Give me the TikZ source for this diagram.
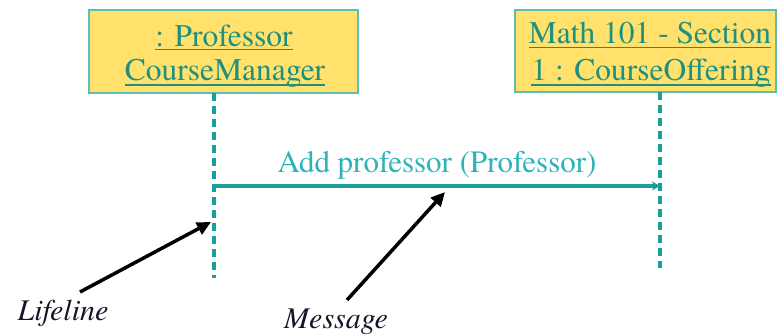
\documentclass[tikz,border=0pt]{standalone}
\usepackage{fontspec}
\setmainfont{TeX Gyre Termes}
\usetikzlibrary{arrows.meta,calc}

\definecolor{boxfill}{HTML}{FFE16B}
\definecolor{boxline}{HTML}{5CBFB0}
\definecolor{objtext}{HTML}{1F8F80}
\definecolor{lifecol}{HTML}{1A9E9A}
\definecolor{msgtext}{HTML}{2BB3B8}
\definecolor{notecol}{HTML}{15152A}

\tikzset{
  objbox/.style={draw=boxline, line width=1.5pt, fill=boxfill},
  objname/.style={anchor=base, inner sep=0pt, text=objtext,
    font=\fontsize{31.5}{34}\selectfont},
  uline/.style={draw=objtext, line width=1.6pt},
  lifeline/.style={draw=lifecol, line width=4pt, dash pattern=on 8pt off 5pt},
  msgline/.style={draw=lifecol, line width=4pt,
    -{Stealth[length=8pt, width=9pt]}},
  msglabel/.style={anchor=base, inner sep=0pt, text=msgtext,
    font=\fontsize{31}{34}\selectfont},
  notelabel/.style={anchor=base, inner sep=0pt, text=notecol,
    font=\fontsize{30}{34}\selectfont\itshape},
  notearrow/.style={draw=black, line width=3.5pt,
    -{Triangle[length=14pt, width=13pt]}}
}

\begin{document}
\begin{tikzpicture}[x=1pt, y=-1pt]
\useasboundingbox (0,0) rectangle (777,335);

% object boxes with underlined names
\path[objbox] (89,10) rectangle (358,93);
\node[objname] (pm1) at (224,46) {: Professor};
\node[objname] (pm2) at (225,80) {CourseManager};
\draw[uline] ($(pm1.base west)+(0,3.5)$) -- ($(pm1.base east)+(0,3.5)$);
\draw[uline] ($(pm2.base west)+(0,5)$) -- ($(pm2.base east)+(0,5)$);

\path[objbox] (515,10) rectangle (776,92);
\node[objname] (co1) at (650,43) {Math 101 - Section};
\node[objname] (co2) at (651,80) {1 : CourseOffering};
\draw[uline] ($(co1.base west)+(0,4.5)$) -- ($(co1.base east)+(0,4.5)$);
\draw[uline] ($(co2.base west)+(0,5)$) -- ($(co2.base east)+(0,5)$);

% lifelines
\coordinate (pmtop) at (214,93);
\coordinate (pmbot) at (214,278);
\coordinate (cotop) at (660,92);
\coordinate (cobot) at (660,268);
\draw[lifeline] (pmtop) -- (pmbot);
\draw[lifeline] (cotop) -- (cobot);

% message
\coordinate (msgfrom) at (214,186);
\coordinate (msgto) at (660,186);
\draw[msgline] (msgfrom) -- (msgto);
\node[msglabel] (msg) at (437,172) {Add professor (Professor)};

% annotations
\node[notelabel] (lifelbl) at (63,320) {Lifeline};
\node[notelabel] (msglbl) at (336,328) {Message};
\coordinate (liftail) at (80,292);
\coordinate (lifhead) at (211,222);
\coordinate (msgtail) at (347,300);
\coordinate (msghead) at (445,192);
\draw[notearrow] (liftail) -- (lifhead);
\draw[notearrow] (msgtail) -- (msghead);
\end{tikzpicture}
\end{document}
